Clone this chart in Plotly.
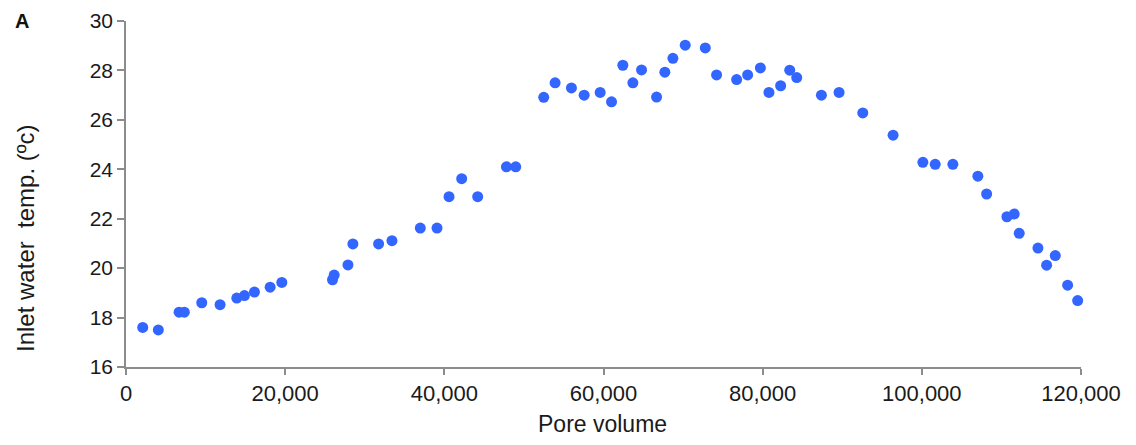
import plotly.graph_objects as go

pore_volume = [2100, 4060, 6670, 7330, 9520, 11820, 13920, 14880, 16140, 18110, 19580,
               25950, 26160, 27890, 28510, 31740, 33420, 36980, 39080, 40590, 42180, 44190,
               47800, 48970, 52490, 53920, 55970, 57570, 59580, 61010, 62430, 63690, 64780,
               66670, 67710, 68720, 70270, 72790, 74210, 76730, 78110, 79710, 80790, 82260,
               83400, 84280, 87380, 89600, 92580, 96390, 100130, 101680, 103900, 107040,
               108140, 110690, 111610, 112240, 114590, 115680, 116770, 118320, 119580]
inlet_temp = [17.6, 17.5, 18.22, 18.22, 18.6, 18.52, 18.79, 18.89, 19.03, 19.23, 19.42,
              19.53, 19.72, 20.13, 20.98, 20.98, 21.11, 21.62, 21.62, 22.89, 23.62, 22.89,
              24.1, 24.1, 26.91, 27.5, 27.29, 27.0, 27.11, 26.73, 28.21, 27.5, 28.02,
              26.92, 27.93, 28.49, 29.02, 28.91, 27.82, 27.63, 27.82, 28.1, 27.11, 27.38,
              28.01, 27.71, 27.0, 27.11, 26.28, 25.38, 24.28, 24.2, 24.2, 23.72,
              23.0, 22.08, 22.19, 21.41, 20.81, 20.12, 20.51, 19.31, 18.69]

x_ticks = [0, 20000, 40000, 60000, 80000, 100000, 120000]
x_tick_labels = ["0", "20,000", "40,000", "60,000", "80,000", "100,000", "120,000"]
y_ticks = [16, 18, 20, 22, 24, 26, 28, 30]

font_family = "Liberation Sans, Arial, sans-serif"
text_color = "#1a1a1a"
axis_color = "#8c8c8c"

# page has an 8px body margin; figure is sized to fit inside the window
OFF = 8
W, H = 1120, 429
L, T, R_EDGE, B_EDGE = 126 - OFF, 21 - OFF, 1081 - OFF, 367 - OFF


def px_x(page_x):
    return (page_x - OFF - L) / (R_EDGE - L)


def px_y(page_y):
    return (B_EDGE - (page_y - OFF)) / (B_EDGE - T)


fig = go.Figure(go.Scatter(
    x=pore_volume, y=inlet_temp, mode="markers",
    marker=dict(color="#3366FF", size=11, line=dict(width=0)),
    showlegend=False, cliponaxis=False,
))

fig.update_layout(
    width=W, height=H,
    margin=dict(l=L, r=W - R_EDGE, t=T, b=H - B_EDGE, autoexpand=False),
    paper_bgcolor="white", plot_bgcolor="white",
    font=dict(family=font_family, color=text_color, size=20),
)
fig.update_xaxes(
    range=[0, 120000], tickvals=x_ticks, ticktext=x_tick_labels, automargin=False,
    showgrid=False, zeroline=False, showline=True, linecolor=axis_color, linewidth=1.5,
    ticks="outside", ticklen=6, tickcolor=axis_color, tickwidth=1.5,
    tickfont=dict(size=22, color=text_color),
)
fig.update_yaxes(
    range=[16, 30], tickvals=y_ticks, automargin=False,
    showgrid=False, zeroline=False, showline=True, linecolor=axis_color, linewidth=1.5,
    ticks="outside", ticklen=7, tickcolor=axis_color, tickwidth=1.5,
    tickfont=dict(size=21, color=text_color),
)
fig.add_annotation(text="Pore volume", x=px_x(602), y=px_y(424),
                   xref="paper", yref="paper", xanchor="center", yanchor="middle",
                   showarrow=False, font=dict(size=23, color=text_color))
fig.add_annotation(text="Inlet water  temp. (ºc)", textangle=-90,
                   x=px_x(25), y=px_y(238),
                   xref="paper", yref="paper", xanchor="center", yanchor="middle",
                   showarrow=False, font=dict(size=24, color=text_color))
fig.add_annotation(text="<b>A</b>", x=px_x(22), y=px_y(21),
                   xref="paper", yref="paper", xanchor="center", yanchor="middle",
                   showarrow=False, font=dict(size=20, color="#111111"))

fig.write_html("out.html")
